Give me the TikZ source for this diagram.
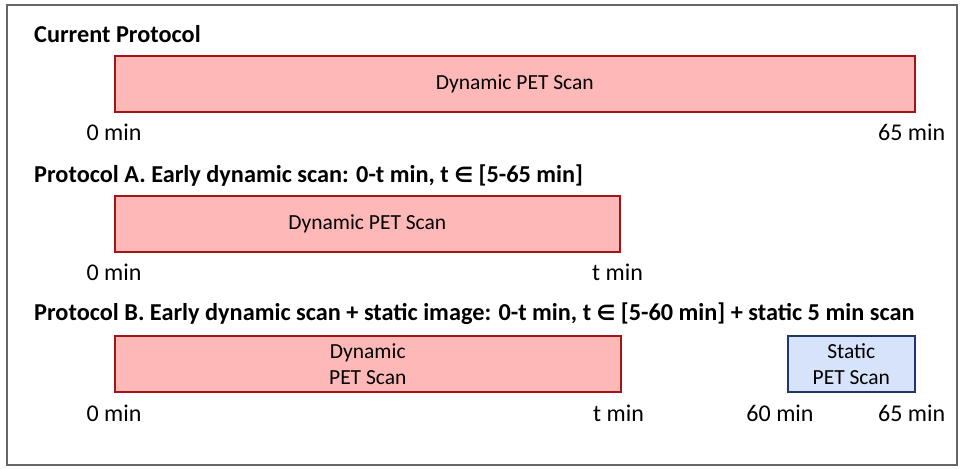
\documentclass[tikz,border=0pt]{standalone}
\usepackage{fontspec}
\setmainfont{Carlito}
\newfontfamily\symfont{DejaVu Sans}
\usepackage{tikz}
\usetikzlibrary{positioning}
\definecolor{scanred}{HTML}{FFB8B8}
\definecolor{scanredline}{HTML}{A31515}
\definecolor{scanblue}{HTML}{D7E3FA}
\definecolor{scanblueline}{HTML}{1F3768}
\tikzstyle{dynbox}=[draw=scanredline,fill=scanred,line width=1.6pt,anchor=north west,minimum height=56pt,inner sep=0pt,align=center,font=\fontsize{21.5}{26}\selectfont]
\tikzstyle{statbox}=[dynbox,draw=scanblueline,fill=scanblue]
\tikzstyle{title}=[anchor=base west,inner sep=0pt,font=\fontsize{24.3}{28}\selectfont\bfseries]
\tikzstyle{tick}=[inner sep=0pt,font=\fontsize{24}{28}\selectfont]
\newcommand{\elem}{{\symfont\fontsize{21}{24}\selectfont\bfseries ∈}}

\begin{document}
\begin{tikzpicture}[x=1pt,y=-1pt]
\useasboundingbox (0,0) rectangle (960,468);
\draw[line width=1.4pt,black!60] (7,5) rectangle (957,465);

% current protocol
\node[title] (tc) at (34,43) {Current Protocol};
\node[dynbox,minimum width=800pt] (cur) at (114,55) {Dynamic PET Scan};
\node at (cur.south west) [tick,yshift=-20pt] (c0) {0 min};
\node at (cur.south east) [tick,xshift=-4pt,yshift=-20pt] (c65) {65 min};

% protocol A
\node[title] (ta) at (34,182) {Protocol A. Early dynamic scan: 0-t min, t \elem{} [5-65 min]};
\node[dynbox,minimum width=505pt] (dyna) at (114,195) {Dynamic PET Scan};
\node at (dyna.south west) [tick,yshift=-20pt] (a0) {0 min};
\node at (dyna.south east) [tick,xshift=-3pt,yshift=-20pt] (at) {t min};

% protocol B
\node[title] (tb) at (34,320) {Protocol B. Early dynamic scan + static image: 0-t min, t \elem{} [5-60 min] + static 5 min scan};
\node[dynbox,minimum width=506pt] (dynb) at (114,335) {Dynamic\\PET Scan};
\node[statbox,minimum width=127pt] (stat) at (787,335) {Static\\PET Scan};
\node at (dynb.south west) [tick,yshift=-21pt] (b0) {0 min};
\node at (dynb.south east) [tick,xshift=-3pt,yshift=-21pt] (bt) {t min};
\node at (stat.south west) [tick,xshift=-7pt,yshift=-21pt] (b60) {60 min};
\node at (stat.south east) [tick,xshift=-4pt,yshift=-21pt] (b65) {65 min};
\end{tikzpicture}
\end{document}
